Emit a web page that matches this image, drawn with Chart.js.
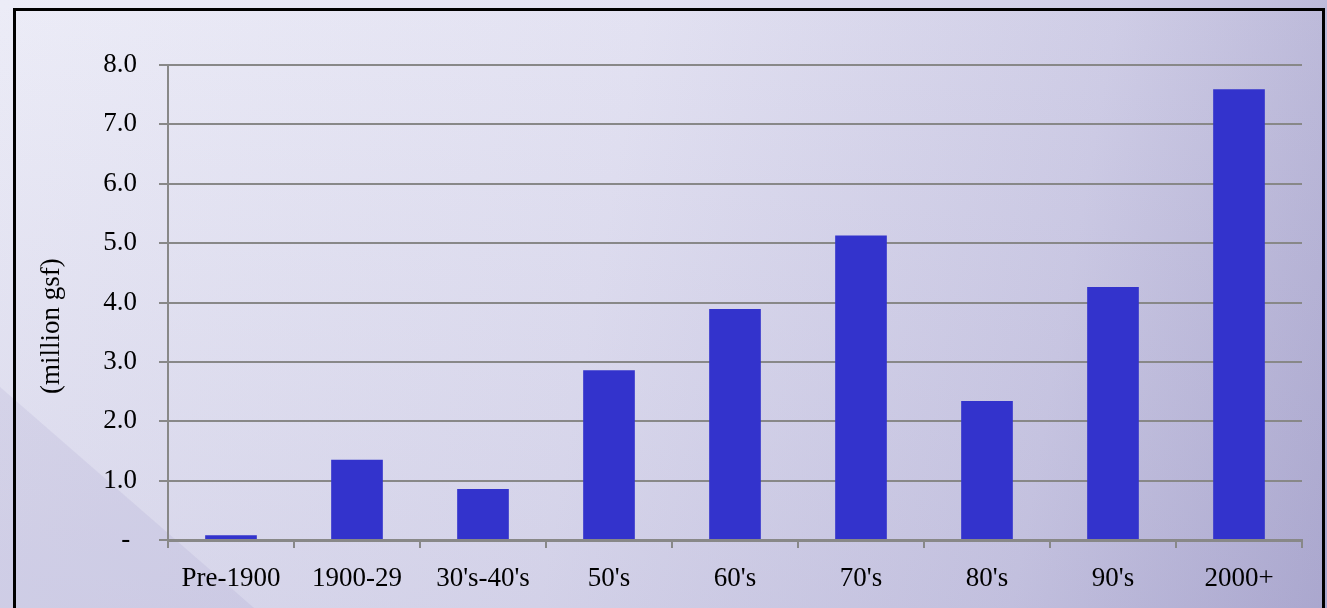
<!DOCTYPE html>
<html>
<head>
<meta charset="utf-8">
<script src="https://cdn.jsdelivr.net/npm/chart.js@4"></script>
<style>
    html, body { margin: 0; padding: 0; }
    body {
        width: 1327px; height: 608px; overflow: hidden; position: relative;
        background:
            linear-gradient(to bottom, rgba(255,255,255,0) 0%, rgba(110,105,170,0.14) 100%),
            linear-gradient(100deg, #ececf7 0%, #e3e2f2 45%, #cfcde6 78%, #b4b1d4 100%);
    }
    #shade {
        position: absolute; left: 0; top: 0; width: 1327px; height: 608px;
        background: rgba(120, 110, 180, 0.10);
        clip-path: polygon(0 387px, 254px 608px, 0 608px);
    }
    #frame {
        position: absolute; left: 13px; top: 8px; width: 1306px; height: 640px;
        border: 3px solid #000;
    }
    #wrap { position: absolute; left: 0; top: 0; width: 1327px; height: 608px; }
</style>
</head>
<body>
<div id="shade"></div>
<div id="frame"></div>
<div id="wrap"><canvas id="gsfChart"></canvas></div>
<script>
// Building area by construction period
const periods = ['Pre-1900', '1900-29', "30's-40's", "50's", "60's", "70's", "80's", "90's", '2000+'];
const millionGsf = [0.08, 1.35, 0.86, 2.86, 3.89, 5.13, 2.34, 4.26, 7.59];
const yTicks = ['- ', '1.0', '2.0', '3.0', '4.0', '5.0', '6.0', '7.0', '8.0'];

document.addEventListener('DOMContentLoaded', function() {
    const ctx = document.getElementById('gsfChart').getContext('2d');
    const serif = "'Liberation Serif', 'Times New Roman', serif";

    new Chart(ctx, {
        type: 'bar',
        data: {
            labels: periods,
            datasets: [{
                data: millionGsf,
                backgroundColor: '#3333CC',
                borderWidth: 0,
                barPercentage: 0.41,
                categoryPercentage: 1.0
            }]
        },
        options: {
            responsive: true,
            maintainAspectRatio: false,
            animation: false,
            layout: { padding: { top: 65, right: 25, left: 0, bottom: 0 } },
            plugins: {
                legend: { display: false },
                tooltip: { enabled: false }
            },
            scales: {
                x: {
                    grid: {
                        offset: true,
                        drawOnChartArea: false,
                        color: '#888888',
                        lineWidth: 2,
                        tickLength: 8
                    },
                    border: { color: '#888888', width: 3 },
                    ticks: {
                        color: '#000',
                        padding: 15,
                        maxRotation: 0,
                        font: { family: serif, size: 27 }
                    },
                    afterFit: function(scale) { scale.height = 68; }
                },
                y: {
                    min: 0,
                    max: 8,
                    grid: {
                        color: '#888888',
                        lineWidth: 2,
                        tickLength: 9
                    },
                    border: { color: '#888888', width: 2 },
                    ticks: {
                        stepSize: 1,
                        color: '#000',
                        padding: 22,
                        font: { family: serif, size: 27 },
                        callback: function(value) { return yTicks[value]; }
                    },
                    title: {
                        display: true,
                        // trailing spaces nudge the rotated title down like the original
                        text: '(million gsf)\u00a0\u00a0\u00a0\u00a0\u00a0\u00a0\u00a0',
                        color: '#000',
                        padding: { top: 36, bottom: 0 },
                        font: { family: serif, size: 27 }
                    },
                    afterFit: function(scale) { scale.width = 168; }
                }
            }
        }
    });
});
</script>
</body>
</html>
